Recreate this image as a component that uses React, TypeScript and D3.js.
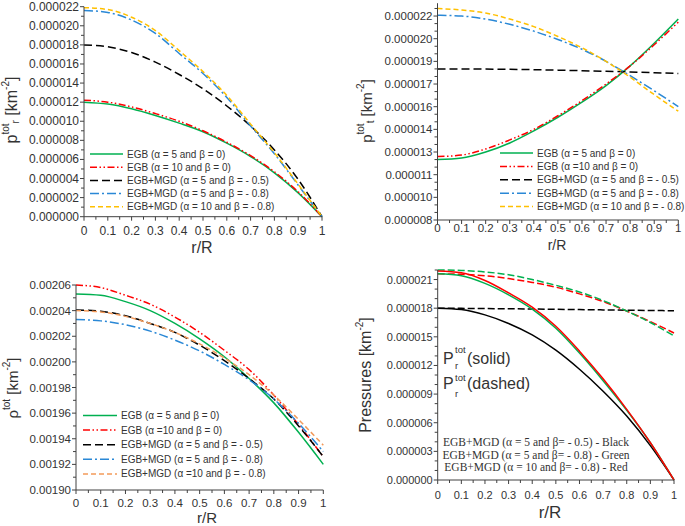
import React from "react";
import * as d3 from "d3";

// ---------- shared ----------
const rR = [0, 0.1, 0.2, 0.3, 0.4, 0.5, 0.6, 0.7, 0.8, 0.9, 1];
const xTicks = [0, 0.1, 0.2, 0.3, 0.4, 0.5, 0.6, 0.7, 0.8, 0.9, 1];
const xTickLabels = ["0", "0.1", "0.2", "0.3", "0.4", "0.5", "0.6", "0.7", "0.8", "0.9", "1"];
const xMinor = [0.05, 0.15, 0.25, 0.35, 0.45, 0.55, 0.65, 0.75, 0.85, 0.95];

// ---------- panel A : p_r^tot (units 1e-6 km^-2) ----------
const aEgb5 = [12.0, 11.8, 11.3, 10.6, 9.8, 8.9, 7.7, 6.3, 4.6, 2.5, 0];
const aEgb10 = [12.2, 12.0, 11.5, 10.8, 10.0, 9.0, 7.8, 6.4, 4.7, 2.6, 0];
const aMgd5_05 = [18.0, 17.8, 17.2, 16.2, 14.9, 13.4, 11.6, 9.5, 7.0, 3.9, 0];
const aMgd5_08 = [21.6, 21.4, 20.6, 19.2, 17.1, 15.0, 12.5, 9.5, 6.6, 3.3, 0];
const aMgd10_08 = [21.9, 21.7, 20.9, 19.5, 17.4, 15.2, 12.7, 9.7, 6.7, 3.4, 0];
const aYTicks = [0, 2, 4, 6, 8, 10, 12, 14, 16, 18, 20, 22];
const aYTickLabels = ["0.000000", "0.000002", "0.000004", "0.000006", "0.000008", "0.000010", "0.000012", "0.000014", "0.000016", "0.000018", "0.000020", "0.000022"];
const aYMinor = [1, 3, 5, 7, 9, 11, 13, 15, 17, 19, 21];

// ---------- panel B : p_t^tot (units 1e-6 km^-2) ----------
const bEgb5 = [12.0, 12.1, 12.5, 13.1, 13.9, 14.8, 15.8, 16.9, 18.2, 19.7, 21.3];
const bEgb10 = [12.2, 12.3, 12.7, 13.3, 14.0, 14.9, 15.9, 17.0, 18.2, 19.6, 21.1];
const bMgd5_05 = [18.0, 18.0, 17.99, 17.97, 17.95, 17.92, 17.88, 17.84, 17.8, 17.75, 17.7];
const bMgd5_08 = [21.55, 21.5, 21.3, 20.95, 20.5, 19.95, 19.3, 18.5, 17.55, 16.55, 15.5];
const bMgd10_08 = [22.0, 21.9, 21.7, 21.3, 20.8, 20.15, 19.4, 18.5, 17.45, 16.3, 15.2];
const bYTicks = [8, 9.5, 11, 12.5, 14, 15.5, 17, 18.5, 20, 21.5];
const bYTickLabels = ["0.000008", "0.000010", "0.000011", "0.000013", "0.000014", "0.000016", "0.000017", "0.000019", "0.000020", "0.000022"];
const bYMinor = [8.5, 9, 10, 10.5, 11.5, 12, 13, 13.5, 14.5, 15, 16, 16.5, 17.5, 18, 19, 19.5, 20.5, 21, 22];

// ---------- panel C : rho^tot (units 1e-5 km^-2) ----------
const cEgb5 = [205.3, 205.2, 204.7, 204.0, 203.0, 201.8, 200.4, 198.7, 196.8, 194.5, 192.0];
const cEgb10 = [206.0, 205.8, 205.2, 204.5, 203.5, 202.3, 200.9, 199.4, 197.4, 195.1, 192.6];
const cMgd5_05 = [204.05, 203.95, 203.6, 203.0, 202.3, 201.3, 200.1, 198.7, 197.1, 195.0, 192.6];
const cMgd5_08 = [203.3, 203.2, 202.9, 202.4, 201.7, 200.85, 199.8, 198.6, 197.1, 195.2, 193.0];
const cMgd10_08 = [204.0, 203.9, 203.55, 203.0, 202.3, 201.4, 200.3, 199.0, 197.4, 195.5, 193.5];
const cYTicks = [190, 192, 194, 196, 198, 200, 202, 204, 206];
const cYTickLabels = ["0.00190", "0.00192", "0.00194", "0.00196", "0.00198", "0.00200", "0.00202", "0.00204", "0.00206"];
const cYMinor = [191, 193, 195, 197, 199, 201, 203, 205];

// ---------- panel D : pressures (units 1e-6 km^-2) ----------
const dPrBlack = [18.0, 17.85, 17.3, 16.4, 15.2, 13.6, 11.6, 9.3, 6.7, 3.6, 0];
const dPrGreen = [21.6, 21.4, 20.6, 19.4, 17.9, 15.9, 13.3, 10.4, 7.3, 3.9, 0];
const dPrRed = [21.9, 21.7, 20.9, 19.6, 18.1, 16.1, 13.5, 10.6, 7.4, 3.9, 0];
const dPtBlack = [18.0, 17.98, 17.96, 17.94, 17.91, 17.88, 17.85, 17.82, 17.79, 17.76, 17.73];
const dPtGreen = [22.0, 21.95, 21.8, 21.5, 21.0, 20.4, 19.7, 18.8, 17.7, 16.5, 15.1];
const dPtRed = [21.6, 21.55, 21.4, 21.1, 20.7, 20.2, 19.5, 18.7, 17.7, 16.6, 15.4];
const dYTicks = [0, 3, 6, 9, 12, 15, 18, 21];
const dYTickLabels = ["0.000000", "0.000003", "0.000006", "0.000009", "0.000012", "0.000015", "0.000018", "0.000021"];
const dYMinor = [1, 2, 4, 5, 7, 8, 10, 11, 13, 14, 16, 17, 19, 20, 22];

const legendA = [
  "EGB (α = 5 and β = 0)",
  "EGB (α = 10 and β = 0)",
  "EGB+MGD (α = 5 and β = - 0.5)",
  "EGB+MGD (α = 5 and β = - 0.8)",
  "EGB+MGD (α = 10 and β = - 0.8)",
];
const legendB = [
  "EGB (α = 5 and β = 0)",
  "EGB (α =10 and β = 0)",
  "EGB+MGD (α = 5 and β = - 0.5)",
  "EGB+MGD (α = 5 and β = - 0.8)",
  "EGB+MGD (α = 10 and β = - 0.8)",
];
const legendC = [
  "EGB (α = 5 and β = 0)",
  "EGB (α =10 and β = 0)",
  "EGB+MGD (α = 5 and β = - 0.5)",
  "EGB+MGD (α = 5 and β = - 0.8)",
  "EGB+MGD (α =10 and β = - 0.8)",
];
const legendD = [
  "EGB+MGD (α = 5 and β= - 0.5) - Black",
  "EGB+MGD (α = 5 and β= - 0.8) - Green",
  "EGB+MGD (α = 10 and β= - 0.8) - Red",
];

const GREEN = "#00B050";
const RED = "#FF0000";
const BLACK = "#000000";
const BLUE = "#2A88D6";
const YELLOW = "#FFC000";
const ORANGE = "#F39A5A";

const SOLID = "";
const DASHDOTDOT = "7,2.5,1.5,2.5,1.5,2.5";
const LONGDASH = "8,4";
const LONGDASHDOT = "9,3,2,3";
const DASH = "5,3";

const FONT = "Liberation Sans, Arial, sans-serif";
const AXIS = "#404040";
const TXT = "#333333";

type Series = { values: number[]; color: string; dash: string };

type PanelProps = {
  x0: number;
  x1: number;
  yDomain: [number, number];
  yRange: [number, number];
  yTicks: number[];
  yTickLabels: string[];
  yMinor: number[];
  tickFs: number;
  xLabelY: number;
  series: Series[];
};

function Panel(p: PanelProps) {
  const x = d3.scaleLinear().domain([0, 1]).range([p.x0, p.x1]);
  const y = d3.scaleLinear().domain(p.yDomain).range(p.yRange);
  const yBase = y(p.yDomain[0]);
  const line = (vals: number[]) =>
    d3
      .line<number>()
      .x((_, i) => x(rR[i]))
      .y((v) => y(v))
      .curve(d3.curveMonotoneX)(vals) || "";
  return (
    <g>
      {p.series.map((s, i) => (
        <path
          key={i}
          d={line(s.values)}
          fill="none"
          stroke={s.color}
          strokeWidth={1.5}
          strokeDasharray={s.dash || undefined}
        />
      ))}
      <line x1={p.x0} x2={p.x0} y1={yBase} y2={y(p.yDomain[1])} stroke={AXIS} strokeWidth={1} />
      {p.yTicks.map((t, i) => (
        <g key={"yt" + i}>
          <line x1={p.x0 - 4} x2={p.x0} y1={y(t)} y2={y(t)} stroke={AXIS} />
          <text
            x={p.x0 - 5}
            y={y(t)}
            textAnchor="end"
            dominantBaseline="central"
            fontSize={p.tickFs}
            fontFamily={FONT}
            fill={TXT}
          >
            {p.yTickLabels[i]}
          </text>
        </g>
      ))}
      {p.yMinor.map((t, i) => (
        <line key={"ym" + i} x1={p.x0 - 3} x2={p.x0} y1={y(t)} y2={y(t)} stroke={AXIS} />
      ))}
      <line x1={p.x0} x2={p.x1} y1={yBase} y2={yBase} stroke={AXIS} strokeWidth={1} />
      {xTicks.map((t, i) => (
        <g key={"xt" + i}>
          <line x1={x(t)} x2={x(t)} y1={yBase} y2={yBase + 4} stroke={AXIS} />
          <text
            x={x(t)}
            y={p.xLabelY}
            textAnchor="middle"
            dominantBaseline="central"
            fontSize={p.tickFs}
            fontFamily={FONT}
            fill={TXT}
          >
            {xTickLabels[i]}
          </text>
        </g>
      ))}
      {xMinor.map((t, i) => (
        <line key={"xm" + i} x1={x(t)} x2={x(t)} y1={yBase} y2={yBase + 3} stroke={AXIS} />
      ))}
    </g>
  );
}

function Legend({
  x,
  y,
  dy,
  len,
  fs,
  labels,
  series,
}: {
  x: number;
  y: number;
  dy: number;
  len: number;
  fs: number;
  labels: string[];
  series: Series[];
}) {
  return (
    <g>
      {labels.map((l, i) => (
        <g key={i}>
          <line
            x1={x}
            x2={x + len}
            y1={y + i * dy}
            y2={y + i * dy}
            stroke={series[i].color}
            strokeWidth={1.5}
            strokeDasharray={series[i].dash || undefined}
          />
          <text
            x={x + len + 4}
            y={y + i * dy}
            dominantBaseline="central"
            fontSize={fs}
            fontFamily={FONT}
            fill={TXT}
          >
            {l}
          </text>
        </g>
      ))}
    </g>
  );
}

function XTitle({ x, y, fs }: { x: number; y: number; fs: number }) {
  return (
    <text x={x} y={y} textAnchor="middle" dominantBaseline="central" fontSize={fs} fontFamily={FONT} fill={TXT}>
      r/R
    </text>
  );
}

export default function App() {
  const seriesA: Series[] = [
    { values: aEgb5, color: GREEN, dash: SOLID },
    { values: aEgb10, color: RED, dash: DASHDOTDOT },
    { values: aMgd5_05, color: BLACK, dash: LONGDASH },
    { values: aMgd5_08, color: BLUE, dash: LONGDASHDOT },
    { values: aMgd10_08, color: YELLOW, dash: DASH },
  ];
  const seriesB: Series[] = [
    { values: bEgb5, color: GREEN, dash: SOLID },
    { values: bEgb10, color: RED, dash: DASHDOTDOT },
    { values: bMgd5_05, color: BLACK, dash: LONGDASH },
    { values: bMgd5_08, color: BLUE, dash: LONGDASHDOT },
    { values: bMgd10_08, color: YELLOW, dash: DASH },
  ];
  const seriesC: Series[] = [
    { values: cEgb5, color: GREEN, dash: SOLID },
    { values: cEgb10, color: RED, dash: DASHDOTDOT },
    { values: cMgd5_05, color: BLACK, dash: LONGDASH },
    { values: cMgd5_08, color: BLUE, dash: LONGDASHDOT },
    { values: cMgd10_08, color: ORANGE, dash: DASH },
  ];
  const seriesD: Series[] = [
    { values: dPtBlack, color: BLACK, dash: "7,3" },
    { values: dPtRed, color: RED, dash: "7,3" },
    { values: dPtGreen, color: GREEN, dash: "7,3" },
    { values: dPrBlack, color: BLACK, dash: SOLID },
    { values: dPrGreen, color: GREEN, dash: SOLID },
    { values: dPrRed, color: RED, dash: SOLID },
  ];

  return (
    <svg
      width={685}
      height={526}
      viewBox="0 0 685 526"
      style={{ position: "absolute", left: 0, top: 0, background: "#fff" }}
    >
      <rect width={685} height={526} fill="#fff" />

      {/* Panel A */}
      <Panel
        x0={84}
        x1={322}
        yDomain={[0, 22]}
        yRange={[216.7, 6.7]}
        yTicks={aYTicks}
        yTickLabels={aYTickLabels}
        yMinor={aYMinor}
        tickFs={12}
        xLabelY={231}
        series={seriesA}
      />
      <Legend x={90} y={154} dy={13.2} len={33} fs={10} labels={legendA} series={seriesA} />
      <XTitle x={202} y={247} fs={16} />
      <text
        transform="translate(11,110) rotate(-90)"
        textAnchor="middle"
        dominantBaseline="central"
        fontSize={16}
        fontFamily={FONT}
        fill={TXT}
      >
        p
        <tspan fontSize={10} dy={-6}>tot</tspan>
        <tspan fontSize={10} dy={10}>r</tspan>
        <tspan dy={-4}> [km</tspan>
        <tspan fontSize={10} dy={-6}>-2</tspan>
        <tspan dy={6}>]</tspan>
      </text>

      {/* Panel B */}
      <Panel
        x0={437.5}
        x1={678.3}
        yDomain={[8, 22.35]}
        yRange={[220, 3.2]}
        yTicks={bYTicks}
        yTickLabels={bYTickLabels}
        yMinor={bYMinor}
        tickFs={11.5}
        xLabelY={228}
        series={seriesB}
      />
      <Legend x={500} y={153} dy={13.4} len={33} fs={10} labels={legendB} series={seriesB} />
      <XTitle x={557} y={245} fs={14} />
      <text
        transform="translate(366,111) rotate(-90)"
        textAnchor="middle"
        dominantBaseline="central"
        fontSize={15}
        fontFamily={FONT}
        fill={TXT}
      >
        p
        <tspan fontSize={10} dy={-6}>tot</tspan>
        <tspan fontSize={10} dy={10}>t</tspan>
        <tspan dy={-4}> [km</tspan>
        <tspan fontSize={10} dy={-6}>-2</tspan>
        <tspan dy={6}>]</tspan>
      </text>

      {/* Panel C */}
      <Panel
        x0={76}
        x1={323.3}
        yDomain={[190, 206]}
        yRange={[490, 285]}
        yTicks={cYTicks}
        yTickLabels={cYTickLabels}
        yMinor={cYMinor}
        tickFs={11.5}
        xLabelY={503}
        series={seriesC}
      />
      <Legend x={83} y={415.5} dy={14.6} len={34} fs={10} labels={legendC} series={seriesC} />
      <XTitle x={207} y={517.5} fs={15} />
      <text
        transform="translate(12,388) rotate(-90)"
        textAnchor="middle"
        dominantBaseline="central"
        fontSize={15}
        fontFamily={FONT}
        fill={TXT}
      >
        ρ
        <tspan fontSize={10} dy={-6}>tot</tspan>
        <tspan dy={6}> [km</tspan>
        <tspan fontSize={10} dy={-6}>-2</tspan>
        <tspan dy={6}>]</tspan>
      </text>

      {/* Panel D */}
      <Panel
        x0={437.7}
        x1={674}
        yDomain={[0, 22]}
        yRange={[480, 270]}
        yTicks={dYTicks}
        yTickLabels={dYTickLabels}
        yMinor={dYMinor}
        tickFs={11}
        xLabelY={495}
        series={seriesD}
      />
      <XTitle x={550} y={512} fs={17} />
      <text
        transform="translate(365,375) rotate(-90)"
        textAnchor="middle"
        dominantBaseline="central"
        fontSize={16}
        fontFamily={FONT}
        fill={TXT}
      >
        Pressures [km
        <tspan fontSize={10} dy={-6}>-2</tspan>
        <tspan dy={6}>]</tspan>
      </text>
      <g fontFamily={FONT} fill={TXT}>
        <text x={443} y={364} fontSize={16}>P</text>
        <text x={455} y={353} fontSize={9.5}>tot</text>
        <text x={455} y={369} fontSize={9.5}>r</text>
        <text x={467} y={364} fontSize={16}>(solid)</text>
        <text x={443} y={389} fontSize={16}>P</text>
        <text x={455} y={381} fontSize={9.5}>tot</text>
        <text x={455} y={397} fontSize={9.5}>r</text>
        <text x={467} y={389} fontSize={16}>(dashed)</text>
      </g>
      {legendD.map((l, i) => (
        <text
          key={i}
          x={536}
          y={442 + i * 12.7}
          textAnchor="middle"
          dominantBaseline="central"
          fontSize={11.5}
          fontFamily="Liberation Serif, 'Times New Roman', serif"
          fill={TXT}
        >
          {l}
        </text>
      ))}
    </svg>
  );
}
